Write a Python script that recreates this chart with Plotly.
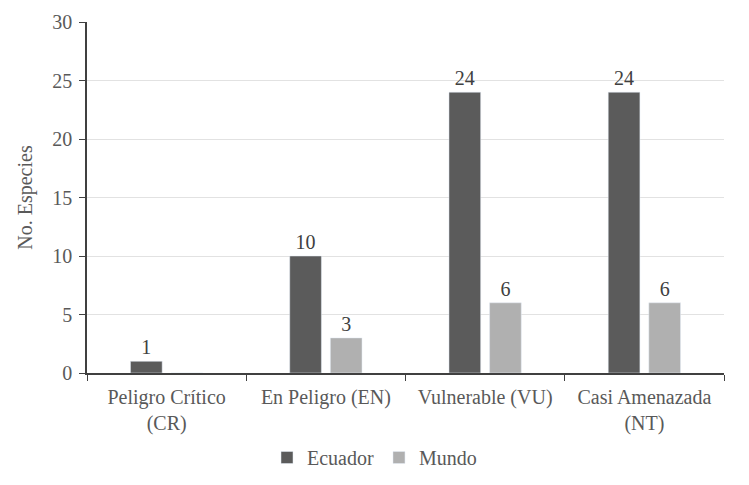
import plotly.graph_objects as go

categories = ["Peligro Crítico<br>(CR)", "En Peligro (EN)", "Vulnerable (VU)", "Casi Amenazada<br>(NT)"]
ecuador = [1, 10, 24, 24]
mundo = [0, 3, 6, 6]

font = "Liberation Serif"
label_font = dict(family=font, size=20, color="#404040")
tick_font = dict(family=font, size=20, color="#595959")

fig = go.Figure()
fig.add_trace(go.Bar(
    x=categories, y=ecuador, name="Ecuador",
    marker=dict(color="#5b5b5b"),
    text=[str(v) if v else "" for v in ecuador],
    textposition="outside", cliponaxis=False,
    textfont=label_font,
))
fig.add_trace(go.Bar(
    x=categories, y=mundo, name="Mundo",
    marker=dict(color="#b0b0b0"),
    text=[str(v) if v else "" for v in mundo],
    textposition="outside", cliponaxis=False,
    textfont=label_font,
))

# page body keeps an 8px margin, so size the figure to fit inside the window
fig.update_layout(
    width=733, height=469,
    margin=dict(l=79, r=17, t=14, b=104),
    paper_bgcolor="white", plot_bgcolor="white",
    font=dict(family=font, size=20, color="#595959"),
    barmode="group", bargap=0.49, bargroupgap=0.22,
    legend=dict(orientation="h", xref="container", x=0.5, xanchor="center",
                yref="container", y=0, yanchor="bottom",
                font=tick_font, itemwidth=30),
)
fig.update_xaxes(
    automargin=False,
    showline=True, linecolor="#404040", linewidth=1.5,
    ticks="outside", tickson="boundaries", ticklen=6, tickcolor="#404040",
    tickfont=tick_font, ticklabelstandoff=5,
    showgrid=False,
)
fig.update_yaxes(
    automargin=False,
    range=[0, 30], dtick=5,
    showline=True, linecolor="#404040", linewidth=1.5,
    ticks="outside", ticklen=6, tickcolor="#404040",
    tickfont=tick_font, ticklabelstandoff=3,
    showgrid=True, gridcolor="#e2e2e2", zeroline=False,
    title=dict(text="No. Especies", standoff=14, font=tick_font),
)

fig.write_html("out.html")
